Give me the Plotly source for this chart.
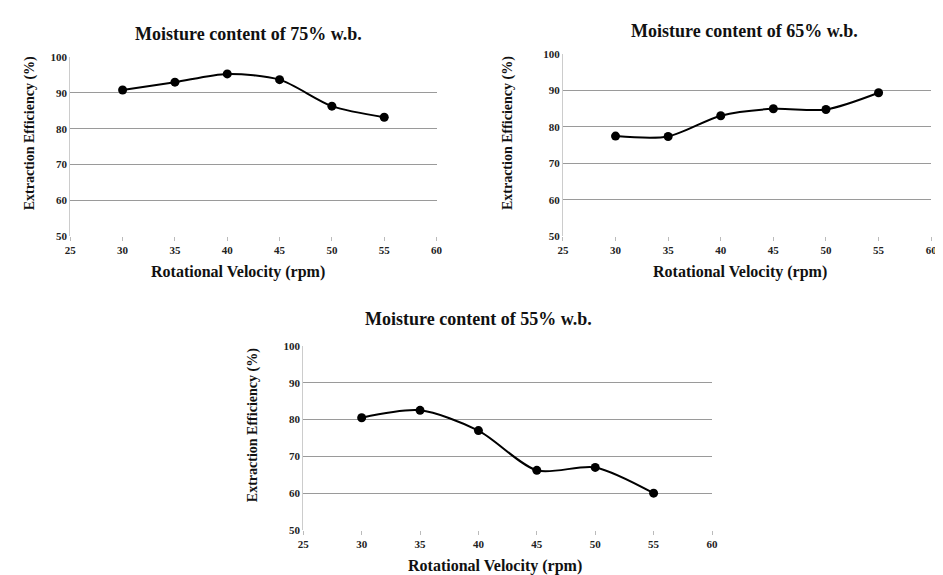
import plotly.graph_objects as go

rpm = [30, 35, 40, 45, 50, 55]
eff_75 = [90.8, 93.0, 95.3, 93.7, 86.3, 83.2]
eff_65 = [77.5, 77.4, 83.1, 85.0, 84.8, 89.4]
eff_55 = [80.5, 82.5, 77.0, 66.2, 67.0, 60.0]
titles = ["Moisture content of 75% w.b.", "Moisture content of 65% w.b.", "Moisture content of 55% w.b."]
x_ticks = [25, 30, 35, 40, 45, 50, 55, 60]
y_ticks = [50, 60, 70, 80, 90, 100]
x_title = "Rotational Velocity (rpm)"
y_title = "Extraction Efficiency (%)"

W, H = 943, 575
FONT = "Liberation Serif"

def px_x(p):
    return p / W

def px_y(p):
    return 1 - p / H

# plot areas in pixels: (left, right, top, bottom)
areas = [(57, 428, 44, 227), (556, 929, 41, 227), (293, 707, 339, 527)]
series = [eff_75, eff_65, eff_55]
title_pos = [(238, 20), (740, 17), (470, 312)]
xtitle_pos = [(227, 263), (735, 263), (487, 564)]
ytitle_pos = [(17, 122), (501, 122), (242, 420)]

fig = go.Figure()
annotations = []
for i, (area, ys) in enumerate(zip(areas, series)):
    l, r, t, b = area
    n = "" if i == 0 else str(i + 1)
    fig.add_trace(go.Scatter(
        x=rpm, y=ys, mode="lines+markers",
        line=dict(color="black", width=2, shape="spline", smoothing=0.8),
        marker=dict(color="black", size=9),
        xaxis="x" + n, yaxis="y" + n, showlegend=False,
    ))
    xa = dict(domain=[px_x(l), px_x(r)], range=[25, 60], tickvals=x_ticks,
              showgrid=False, zeroline=False, showline=False,
              ticks="outside", ticklen=4, tickcolor="#bbbbbb",
              tickfont=dict(family=FONT, size=11, color="#222", weight="bold"),
              anchor="y" + n, fixedrange=True)
    ya = dict(domain=[px_y(b), px_y(t)], range=[50, 100], tickvals=y_ticks,
              showgrid=True, gridcolor="#9a9a9a", gridwidth=1.2, zeroline=False,
              showline=True, linecolor="#cccccc", linewidth=1,
              tickfont=dict(family=FONT, size=11, color="#222", weight="bold"),
              ticks="", anchor="x" + n, fixedrange=True)
    fig.update_layout(**{"xaxis" + n: xa, "yaxis" + n: ya})
    tx, ty = title_pos[i]
    annotations.append(dict(text=titles[i], x=px_x(tx), y=px_y(ty), xref="paper", yref="paper",
                            showarrow=False, xanchor="center", yanchor="middle",
                            font=dict(family=FONT, size=18, color="#111", weight="bold")))
    ax, ay = xtitle_pos[i]
    annotations.append(dict(text=x_title, x=px_x(ax), y=px_y(ay), xref="paper", yref="paper",
                            showarrow=False, xanchor="center", yanchor="middle",
                            font=dict(family=FONT, size=16, color="#111", weight="bold")))
    yx, yy = ytitle_pos[i]
    annotations.append(dict(text=y_title, x=px_x(yx), y=px_y(yy), xref="paper", yref="paper",
                            showarrow=False, xanchor="center", yanchor="middle", textangle=-90,
                            font=dict(family=FONT, size=14, color="#111", weight="bold")))

fig.update_layout(
    width=W, height=H, margin=dict(l=0, r=0, t=0, b=0),
    paper_bgcolor="white", plot_bgcolor="white",
    annotations=annotations,
)

fig.write_html("out.html")
